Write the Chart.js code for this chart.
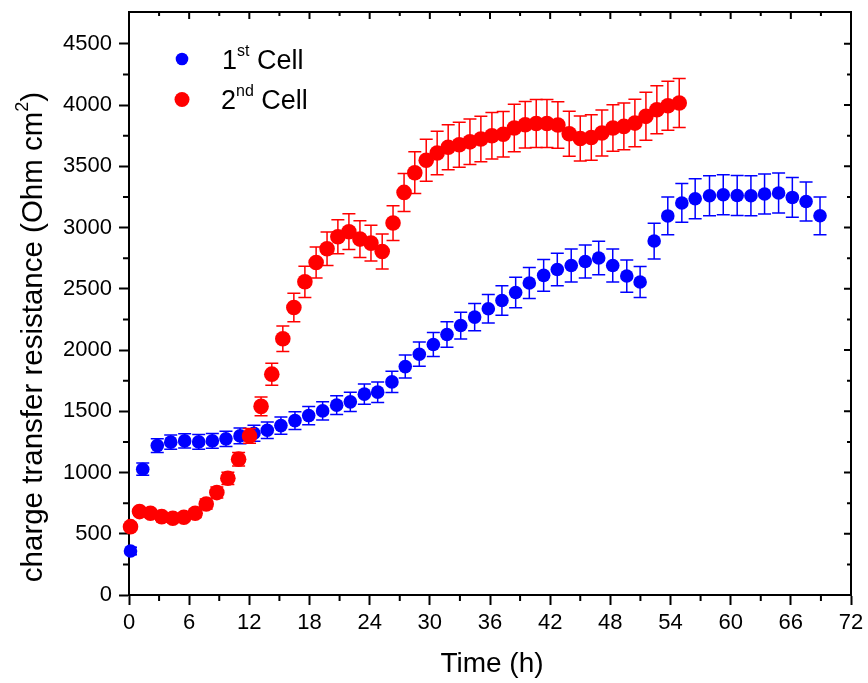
<!DOCTYPE html>
<html>
<head>
<meta charset="utf-8">
<script src="https://cdn.jsdelivr.net/npm/chart.js@4.4.1/dist/chart.umd.min.js"></script>
<style>
html, body { margin: 0; padding: 0; background: #fff; }
#wrap { width: 868px; height: 683px; }
</style>
</head>
<body>
<div id="wrap"><canvas id="RctChart" width="868" height="683"></canvas></div>
<script>
// Time (h) of each measurement
var blueTime = [0.15, 1.37, 2.82, 4.16, 5.55, 6.95, 8.31, 9.67, 11.07, 12.46, 13.79, 15.15, 16.55, 17.92, 19.31, 20.71, 22.07,
  23.47, 24.80, 26.22, 27.55, 28.95, 30.35, 31.71, 33.08, 34.47, 35.83, 37.19, 38.56, 39.92, 41.35, 42.71, 44.10, 45.50,
  46.84, 48.24, 49.64, 50.97, 52.37, 53.73, 55.13, 56.46, 57.89, 59.26, 60.65, 62.02, 63.38, 64.78, 66.15, 67.52, 68.91];
var redTime = [0.15, 1.05, 2.14, 3.26, 4.37, 5.47, 6.60, 7.70, 8.76, 9.86, 10.93, 12.02, 13.17, 14.24, 15.34, 16.44, 17.54,
  18.66, 19.75, 20.83, 21.93, 23.03, 24.13, 25.25, 26.33, 27.43, 28.50, 29.64, 30.73, 31.83, 32.93, 34.00, 35.09, 36.19,
  37.32, 38.42, 39.51, 40.61, 41.68, 42.77, 43.90, 45.00, 46.10, 47.16, 48.26, 49.35, 50.45, 51.55, 52.64, 53.74, 54.87];

// charge transfer resistance (Ohm cm2)
var cell1 = [359, 1027, 1220, 1248, 1258, 1250, 1258, 1275, 1299, 1321, 1345, 1383, 1424, 1465, 1503, 1550, 1577,
  1640, 1656, 1740, 1865, 1966, 2045, 2127, 2200, 2269, 2337, 2404, 2470, 2547, 2610, 2658, 2690, 2723,
  2751, 2690, 2604, 2555, 2890, 3095, 3201, 3235, 3260, 3268, 3262, 3260, 3274, 3282, 3246, 3213, 3096];
var cell2 = [558, 681, 667, 640, 627, 635, 667, 743, 836, 953, 1109, 1299, 1540, 1803, 2092, 2347, 2557,
  2715, 2827, 2925, 2966, 2906, 2873, 2805, 3037, 3287, 3448, 3550, 3609, 3656, 3676, 3700, 3723, 3750,
  3762, 3813, 3840, 3850, 3850, 3837, 3766, 3727, 3735, 3772, 3813, 3826, 3853, 3908, 3962, 3995, 4017];

// error bars (+/-)
var cell1Err = [30, 50, 56, 58, 58, 60, 60, 62, 64, 65, 68, 71, 72, 74, 75, 76, 78, 82, 84, 86, 94, 99, 98, 104, 109,
  112, 116, 120, 124, 127, 129, 133, 135, 135, 137, 135, 132, 127, 146, 154, 158, 163, 163, 163, 163, 163, 163, 163,
  162, 160, 154];
var cell2Err = [30, 30, 30, 30, 30, 30, 35, 40, 45, 50, 55, 60, 76, 90, 104, 117, 128, 127, 136, 139, 146, 150, 146,
  143, 142, 155, 170, 172, 177, 184, 184, 186, 186, 190, 186, 193, 190, 196, 196, 190, 184, 184, 186, 188, 190, 190,
  194, 196, 196, 200, 200];

// axis ticks
var xTicks = [0, 6, 12, 18, 24, 30, 36, 42, 48, 54, 60, 66, 72];
var yTicks = [0, 500, 1000, 1500, 2000, 2500, 3000, 3500, 4000, 4500];

var FONT = "'Liberation Sans', Arial, sans-serif";

function points(xs, ys) {
  return xs.map(function (t, i) { return { x: t, y: ys[i] }; });
}

// error bars drawn right before each dataset's markers
var errorBars = {
  id: 'errorBars',
  beforeDatasetDraw: function (chart, args) {
    var ds = chart.data.datasets[args.index];
    if (!ds.errors) return;
    var c = chart.ctx, a = chart.chartArea, sx = chart.scales.x, sy = chart.scales.y;
    c.save();
    c.beginPath();
    c.rect(a.left, a.top, a.right - a.left, a.bottom - a.top);
    c.clip();
    c.strokeStyle = ds.barColor;
    c.lineWidth = 1.5;
    ds.data.forEach(function (p, i) {
      var px = sx.getPixelForValue(p.x);
      var top = sy.getPixelForValue(p.y + ds.errors[i]);
      var bot = sy.getPixelForValue(p.y - ds.errors[i]);
      c.beginPath();
      c.moveTo(px, top); c.lineTo(px, bot);
      c.moveTo(px - 6.5, top); c.lineTo(px + 6.5, top);
      c.moveTo(px - 6.5, bot); c.lineTo(px + 6.5, bot);
      c.stroke();
    });
    c.restore();
  }
};

// text with a superscript part: [normal, sup, normal]
function supWidth(c, parts, size, supSize) {
  c.font = size + 'px ' + FONT;
  var w = c.measureText(parts[0]).width + c.measureText(parts[2]).width;
  c.font = supSize + 'px ' + FONT;
  return w + c.measureText(parts[1]).width;
}
function drawSup(c, x, y, parts, size, supSize, raise) {
  c.textAlign = 'left';
  c.textBaseline = 'alphabetic';
  c.font = size + 'px ' + FONT;
  c.fillText(parts[0], x, y);
  x += c.measureText(parts[0]).width;
  c.font = supSize + 'px ' + FONT;
  c.fillText(parts[1], x, y - raise);
  x += c.measureText(parts[1]).width;
  c.font = size + 'px ' + FONT;
  c.fillText(parts[2], x, y);
}

// box frame, minor ticks, axis titles and legend
var decor = {
  id: 'decor',
  afterDraw: function (chart) {
    var c = chart.ctx, a = chart.chartArea, sx = chart.scales.x, sy = chart.scales.y;
    c.save();
    c.strokeStyle = '#000';
    c.lineWidth = 2;
    c.beginPath();
    c.moveTo(a.left, a.top); c.lineTo(a.right, a.top); c.lineTo(a.right, a.bottom);
    c.stroke();

    c.beginPath();
    xTicks.forEach(function (v, i) {
      var px = sx.getPixelForValue(v);
      c.moveTo(px, a.top); c.lineTo(px, a.top + 7);
      if (i < xTicks.length - 1) {
        var pm = sx.getPixelForValue((v + xTicks[i + 1]) / 2);
        c.moveTo(pm, a.bottom); c.lineTo(pm, a.bottom + 6);
        c.moveTo(pm, a.top); c.lineTo(pm, a.top + 4);
      }
    });
    yTicks.forEach(function (v) {
      var py = sy.getPixelForValue(v);
      c.moveTo(a.right, py); c.lineTo(a.right - 7, py);
      var pm = sy.getPixelForValue(v + 250);
      if (pm > a.top + 2) {
        c.moveTo(a.left, pm); c.lineTo(a.left - 6, pm);
        c.moveTo(a.right, pm); c.lineTo(a.right - 4, pm);
      }
    });
    c.stroke();

    c.fillStyle = '#000';
    c.font = '28px ' + FONT;
    c.textAlign = 'center';
    c.textBaseline = 'alphabetic';
    c.fillText('Time (h)', 492, 672);

    c.save();
    c.translate(42, 337);
    c.rotate(-Math.PI / 2);
    var yt = ['charge transfer resistance (Ohm cm', '2', ')'];
    var w = supWidth(c, yt, 29.5, 18);
    drawSup(c, -w / 2, 0, yt, 29.5, 18, 14);
    c.restore();

    c.fillStyle = '#0000ff';
    c.beginPath(); c.arc(182, 59, 6.3, 0, Math.PI * 2); c.fill();
    c.fillStyle = '#ff0000';
    c.beginPath(); c.arc(182, 99.5, 7.5, 0, Math.PI * 2); c.fill();
    c.fillStyle = '#000';
    drawSup(c, 222, 69, ['1', 'st', ' Cell'], 27, 16, 13);
    drawSup(c, 221, 109, ['2', 'nd', ' Cell'], 27, 16, 13);
    c.restore();
  }
};

var ctx = document.getElementById("RctChart");

var RctChart = new Chart(ctx, {
  type: 'scatter',
  data: {
    datasets: [
      {
        label: '1st Cell',
        data: points(blueTime, cell1),
        errors: cell1Err,
        barColor: '#0000ff',
        backgroundColor: '#0000ff',
        borderWidth: 0,
        pointRadius: 6.8,
        pointHoverRadius: 6.8,
        clip: false,
        order: 2
      },
      {
        label: '2nd Cell',
        data: points(redTime, cell2),
        errors: cell2Err,
        barColor: '#ff0000',
        backgroundColor: '#ff0000',
        borderWidth: 0,
        pointRadius: 7.8,
        pointHoverRadius: 7.8,
        clip: false,
        order: 1
      }
    ]
  },
  options: {
    responsive: false,
    animation: false,
    devicePixelRatio: 1,
    layout: { padding: { top: 12, right: 17, left: 0, bottom: 0 } },
    plugins: {
      legend: { display: false },
      tooltip: { enabled: false }
    },
    scales: {
      x: {
        type: 'linear',
        min: 0,
        max: 72,
        z: 1,
        afterFit: function (s) { s.height = 88; s.paddingLeft = 0; s.paddingRight = 0; },
        afterBuildTicks: function (s) { s.ticks = xTicks.map(function (v) { return { value: v }; }); },
        ticks: { color: '#000', font: { size: 22, family: FONT }, padding: 5, maxRotation: 0, autoSkip: false },
        grid: { display: true, drawOnChartArea: false, drawTicks: true, tickLength: 10, tickWidth: 2, tickColor: '#000' },
        border: { display: true, color: '#000', width: 2 }
      },
      y: {
        type: 'linear',
        min: 0,
        max: 4760,
        z: 1,
        afterFit: function (s) { s.width = 129; s.paddingTop = 0; s.paddingBottom = 0; },
        afterBuildTicks: function (s) { s.ticks = yTicks.map(function (v) { return { value: v }; }); },
        ticks: {
          color: '#000', font: { size: 22, family: FONT }, padding: 7, autoSkip: false,
          callback: function (v) { return String(v); }
        },
        grid: { display: true, drawOnChartArea: false, drawTicks: true, tickLength: 10, tickWidth: 2, tickColor: '#000' },
        border: { display: true, color: '#000', width: 2 }
      }
    }
  },
  plugins: [errorBars, decor]
});
</script>
</body>
</html>
